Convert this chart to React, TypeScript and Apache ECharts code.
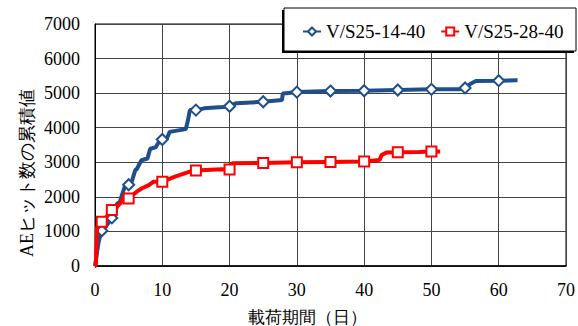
import React, { useEffect, useRef } from "react";
import * as echarts from "echarts";

const xTicks = [0, 10, 20, 30, 40, 50, 60, 70];
const yTicks = [0, 1000, 2000, 3000, 4000, 5000, 6000, 7000];

const seriesNames = ["V/S25-14-40", "V/S25-28-40"];

const blueDays = [0, 0.2, 0.35, 0.55, 0.8, 1, 1.4, 1.8, 2.5, 3.0, 3.3, 3.7, 4.0, 4.5, 5, 5.4, 5.7, 6.0, 6.2, 6.9, 7.8, 8.2, 9.0, 9.4, 10, 10.7, 11.1, 13.5, 13.8, 14.1, 15, 16.2, 19, 20, 21, 25, 27.8, 27.9, 28.4, 30, 35, 40, 45, 50, 54.1, 55, 55.9, 56.6, 60, 62.8];
const blueHits = [0, 250, 460, 700, 900, 1020, 1100, 1190, 1390, 1480, 1810, 1850, 2050, 2340, 2350, 2400, 2590, 2780, 2800, 3060, 3110, 3390, 3430, 3560, 3660, 3700, 3880, 3960, 4200, 4510, 4510, 4560, 4600, 4620, 4710, 4750, 4800, 4990, 5000, 5030, 5060, 5070, 5090, 5110, 5110, 5150, 5280, 5350, 5360, 5370];
const blueMarkerDays = [1, 2.5, 5, 10, 15, 20, 25, 30, 35, 40, 45, 50, 55, 60];

const redDays = [0, 0.12, 0.3, 0.5, 1, 1.7, 2.5, 3.0, 3.75, 4.25, 5, 6.2, 7.0, 8.0, 8.7, 10, 12.1, 14.1, 15, 18.8, 20, 20.4, 25, 30, 35, 40, 42.3, 42.6, 43.3, 45, 48.2, 50, 51.3];
const redHits = [0, 0, 1100, 1200, 1280, 1420, 1620, 1660, 1810, 1960, 1950, 2150, 2250, 2340, 2440, 2440, 2600, 2730, 2760, 2800, 2790, 2970, 2980, 3000, 3010, 3020, 3070, 3210, 3280, 3290, 3300, 3310, 3310];
const redMarkerDays = [1, 2.5, 5, 10, 15, 20, 25, 30, 35, 40, 45, 50];

const BLUE = "#1F4E8C";
const RED = "#FF0000";
const SERIF = "serif";

function build(days: number[], hits: number[], markers: number[], sym: string) {
  return days.map((d, i) => ({
    value: [d, hits[i]],
    symbol: markers.includes(d) ? sym : "none",
  }));
}

export default function App() {
  const ref = useRef<HTMLDivElement>(null);
  useEffect(() => {
    if (!ref.current) return;
    const chart = echarts.init(ref.current, undefined, { renderer: "svg" });
    chart.setOption({
      animation: false,
      backgroundColor: "#fff",
      textStyle: { fontFamily: SERIF },
      grid: { left: 95, right: 11, top: 24, bottom: 60, show: true, borderColor: "#000", borderWidth: 1 },
      xAxis: {
        type: "value",
        min: xTicks[0],
        max: xTicks[xTicks.length - 1],
        interval: 10,
        axisLine: { show: true, lineStyle: { color: "#000", width: 1.5 } },
        axisTick: { show: false },
        axisLabel: { color: "#000", fontFamily: SERIF, fontSize: 18, margin: 15, formatter: (v: number) => String(v) },
        splitLine: { show: true, lineStyle: { color: "#444", width: 1 } },
      },
      yAxis: {
        type: "value",
        min: yTicks[0],
        max: yTicks[yTicks.length - 1],
        interval: 1000,
        axisLine: { show: true, lineStyle: { color: "#000", width: 1 } },
        axisTick: { show: false },
        axisLabel: { color: "#000", fontFamily: SERIF, fontSize: 18, margin: 15, formatter: (v: number) => String(v) },
        splitLine: { show: true, lineStyle: { color: "#444", width: 1 } },
      },
      legend: {
        left: 297,
        top: 17,
        itemWidth: 18,
        itemHeight: 10,
        itemGap: 15,
        textStyle: { color: "#000", fontFamily: SERIF, fontSize: 19 },
        data: seriesNames,
        z: 10,
      },
      graphic: [
        { type: "rect", z: 5, shape: { x: 282, y: 10, width: 292, height: 43 }, style: { fill: "#000" } },
        { type: "rect", z: 6, shape: { x: 284, y: 8, width: 292, height: 43 }, style: { fill: "#fff", stroke: "#000", lineWidth: 1 } },
        {
          type: "text",
          x: 27,
          y: 173,
          rotation: Math.PI / 2,
          style: { text: "AEヒット数の累積値", font: "18px serif", fill: "#000", align: "center", verticalAlign: "middle" },
        },
        {
          type: "text",
          x: 307,
          y: 317,
          style: { text: "載荷期間（日）", font: "17px serif", fill: "#000", align: "center", verticalAlign: "middle" },
        },
      ],
      series: [
        {
          type: "line",
          name: seriesNames[0],
          data: build(blueDays, blueHits, blueMarkerDays, "emptyDiamond"),
          symbol: "emptyDiamond",
          symbolSize: 11,
          showAllSymbol: true,
          lineStyle: { color: BLUE, width: 4 },
          itemStyle: { color: BLUE, borderWidth: 1.5 },
          z: 2,
        },
        {
          type: "line",
          name: seriesNames[1],
          data: build(redDays, redHits, redMarkerDays, "emptyRect"),
          symbol: "emptyRect",
          symbolSize: 10,
          showAllSymbol: true,
          lineStyle: { color: RED, width: 4 },
          itemStyle: { color: RED, borderWidth: 1.5 },
          z: 3,
        },
      ],
    });
    return () => chart.dispose();
  }, []);
  return <div ref={ref} style={{ width: 578, height: 326, position: "absolute", left: 0, top: 0 }} />;
}
